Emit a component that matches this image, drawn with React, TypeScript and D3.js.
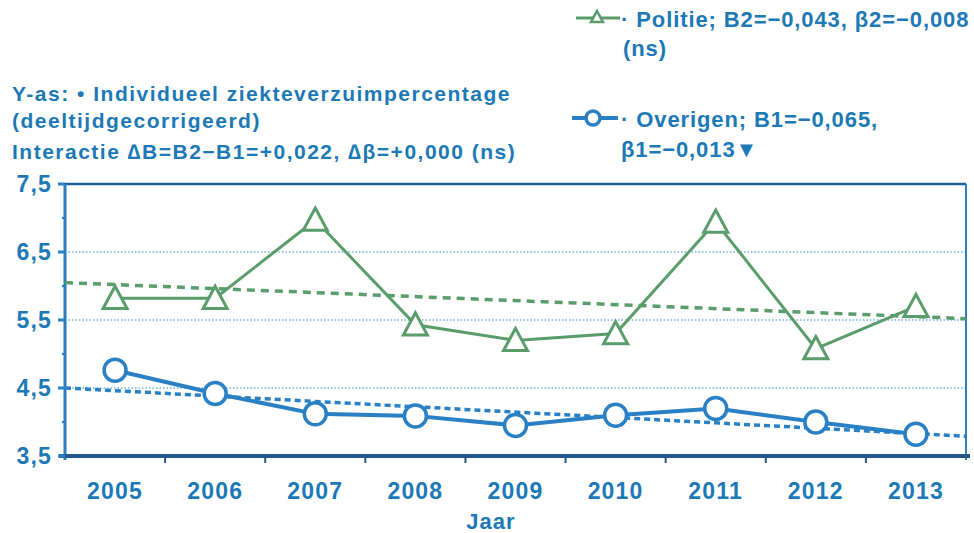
import * as d3 from "d3";

const years = ["2005", "2006", "2007", "2008", "2009", "2010", "2011", "2012", "2013"];
const politie = [5.82, 5.82, 6.97, 5.43, 5.2, 5.3, 6.94, 5.08, 5.7];
const overigen = [4.76, 4.42, 4.12, 4.09, 3.95, 4.1, 4.2, 4.0, 3.82];
// trend lines: value at left edge, value at right edge
const trendPolitie = [6.05, 5.52];
const trendOverigen = [4.5, 3.79];
const yTicks = [3.5, 4.5, 5.5, 6.5, 7.5];
const yMinor = [4, 5, 6, 7];

const W = 974;
const H = 533;
const left = 65;
const right = 966;
const top = 184;
const bottom = 456;

const textBlue = "#1c79b5";
const lineBlue = "#2a80c4";
const green = "#5a9c6b";
const font = "'Liberation Sans', Arial, sans-serif";

const tri = (px: number, py: number, s: number) =>
  `M${px},${py - s}L${px + s},${py + s * 0.85}L${px - s},${py + s * 0.85}Z`;

export default function App() {
  const x = d3.scaleBand().domain(years).range([left, right]);
  const y = d3.scaleLinear().domain([3.5, 7.5]).range([bottom, top]);
  const cx = (yr: string) => (x(yr) ?? 0) + x.bandwidth() / 2;

  const line = d3
    .line<number>()
    .x((_, i) => cx(years[i]))
    .y((d) => y(d));

  const fmt = (v: number) => v.toFixed(1).replace(".", ",");

  return (
    <svg width={W} height={H} style={{ position: "absolute", left: 0, top: 0, background: "#fff" }} fontFamily={font}>
      {/* grid */}
      {[4.5, 5.5, 6.5].map((t) => (
        <line key={t} x1={left} x2={right} y1={y(t)} y2={y(t)} stroke="#6bb6e0" strokeWidth={1.3} strokeDasharray="1.5 2" />
      ))}
      {/* frame */}
      <line x1={left} x2={right} y1={top} y2={top} stroke="#1d5f9a" strokeWidth={2.5} />
      <line x1={right} x2={right} y1={top} y2={bottom + 4} stroke="#2a80c4" strokeWidth={2} />
      <line x1={left} x2={left} y1={top} y2={bottom + 4} stroke="#2a7fc0" strokeWidth={3} />
      <line x1={left - 6} x2={right + 4} y1={bottom} y2={bottom} stroke="#25578a" strokeWidth={4} />
      {yTicks.map((t) => (
        <line key={t} x1={left - 7} x2={left} y1={y(t)} y2={y(t)} stroke="#2a7fc0" strokeWidth={3} />
      ))}
      {yMinor.map((t) => (
        <line key={t} x1={left - 3} x2={left} y1={y(t)} y2={y(t)} stroke="#2a7fc0" strokeWidth={2} />
      ))}
      {years.slice(1).map((yr) => (
        <line key={yr} x1={x(yr)} x2={x(yr)} y1={bottom} y2={bottom + 7} stroke="#25578a" strokeWidth={2} />
      ))}
      {/* y labels */}
      {yTicks.map((t) => (
        <text key={t} x={52} y={y(t) + 8} textAnchor="end" fontSize={23} fontWeight="bold" letterSpacing={1.2} fill={textBlue}>
          {fmt(t)}
        </text>
      ))}
      {/* x labels */}
      {years.map((yr) => (
        <text key={yr} x={cx(yr)} y={499} textAnchor="middle" fontSize={23} fontWeight="bold" letterSpacing={1.2} fill={textBlue}>
          {yr}
        </text>
      ))}
      <text x={491} y={529} textAnchor="middle" fontSize={22} fontWeight="bold" letterSpacing={1} fill={textBlue}>
        Jaar
      </text>

      {/* trend lines */}
      <line x1={left} x2={right} y1={y(trendPolitie[0])} y2={y(trendPolitie[1])} stroke={green} strokeWidth={3.5} strokeDasharray="8 6" />
      <line x1={left} x2={right} y1={y(trendOverigen[0])} y2={y(trendOverigen[1])} stroke={lineBlue} strokeWidth={3.5} strokeDasharray="6 4" />

      {/* series */}
      <path d={line(politie) ?? ""} fill="none" stroke={green} strokeWidth={3} />
      {politie.map((v, i) => (
        <path key={i} d={tri(cx(years[i]), y(v), 12)} fill="#fff" stroke={green} strokeWidth={3} />
      ))}
      <path d={line(overigen) ?? ""} fill="none" stroke={lineBlue} strokeWidth={4} />
      {overigen.map((v, i) => (
        <circle key={i} cx={cx(years[i])} cy={y(v)} r={11} fill="#fff" stroke={lineBlue} strokeWidth={3.5} />
      ))}

      {/* title */}
      <g fontSize={21} fontWeight="bold" fill={textBlue} letterSpacing={1.5}>
        <text x={12} y={101}>Y-as: • Individueel ziekteverzuimpercentage</text>
        <text x={12} y={128}>(deeltijdgecorrigeerd)</text>
        <text x={12} y={159}>Interactie ∆B=B2−B1=+0,022, ∆β=+0,000 (ns)</text>
      </g>

      {/* legend */}
      <g>
        <line x1={576} x2={620} y1={18} y2={18} stroke={green} strokeWidth={3} />
        <path d={tri(597, 17, 6)} fill="#fff" stroke={green} strokeWidth={2.5} />
        <line x1={572} x2={618} y1={118} y2={118} stroke={lineBlue} strokeWidth={4} />
        <circle cx={593} cy={118} r={7} fill="#fff" stroke={lineBlue} strokeWidth={3.5} />
      </g>
      <g fontSize={22} fontWeight="bold" fill={textBlue} letterSpacing={0.9}>
        <text x={621} y={27}>· Politie; B2=−0,043, β2=−0,008</text>
        <text x={623} y={56}>(ns)</text>
        <text x={621} y={127}>· Overigen; B1=−0,065,</text>
        <text x={621} y={157}>β1=−0,013▼</text>
      </g>
    </svg>
  );
}
